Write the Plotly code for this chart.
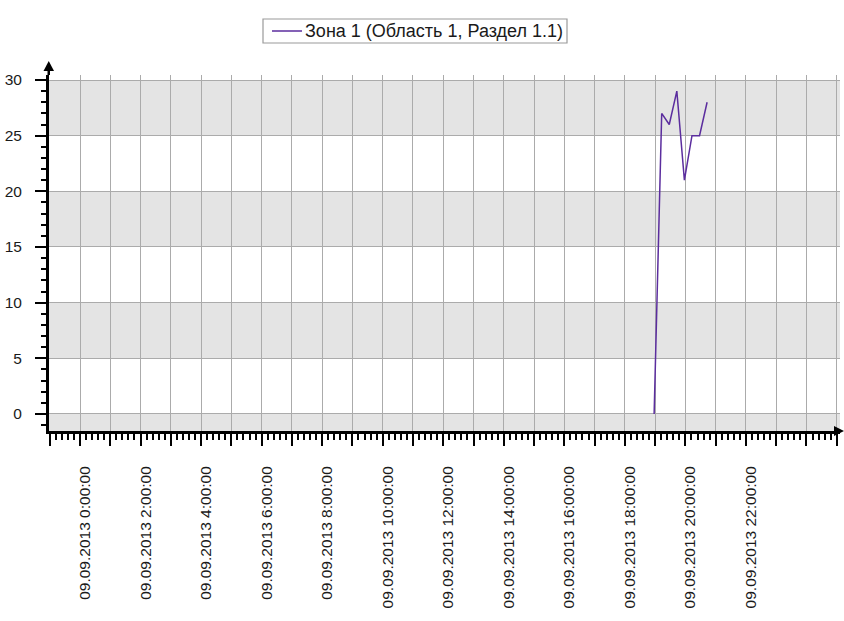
import pandas as pd
import plotly.graph_objects as go

# Readings for the zone on 09.09.2013
times = ["2013-09-09 18:58", "2013-09-09 19:13", "2013-09-09 19:28", "2013-09-09 19:43",
         "2013-09-09 19:58", "2013-09-09 20:13", "2013-09-09 20:28", "2013-09-09 20:43"]
values = [0, 27, 26, 29, 21, 25, 25, 28]
series_name = "Зона 1 (Область 1, Раздел 1.1)"
series_color = "#5b2d9e"

# Hourly grid/ticks, labels every two hours on the day
tick_hours = list(range(-1, 26))
day_start = pd.Timestamp("2013-09-09 00:00")
tick_vals = [day_start + pd.Timedelta(hours=h) for h in tick_hours]
tick_text = [(f"09.09.2013 {h}:00:00" if (0 <= h <= 22 and h % 2 == 0) else "") for h in tick_hours]

y_bands = [(25, 30), (15, 20), (5, 10), (-1.53, 0)]

W, H = 844, 621
ML, MR, MT, MB = 49, 4, 75, 190
PW, PH = W - ML - MR, H - MT - MB

x_range = [day_start - pd.Timedelta(hours=1.024), day_start + pd.Timedelta(hours=25.107)]
y_range = [-1.53, 30.45]

family = "Liberation Sans, Arial, sans-serif"
tick_font = dict(family=family, size=15.5, color="#1a1a1a")
legend_font = dict(family=family, size=18, color="#1a1a1a")

fig = go.Figure()
fig.add_trace(go.Scatter(
    x=pd.to_datetime(times), y=values, mode="lines", name=series_name,
    line=dict(color=series_color, width=1.5), showlegend=False,
))

shapes = []
for lo, hi in y_bands:
    shapes.append(dict(type="rect", xref="paper", yref="y", x0=0, x1=1, y0=lo, y1=hi,
                       fillcolor="#e4e4e4", line=dict(width=0), layer="below"))

# Arrow heads on the ends of both axes (pixel-sized, anchored to plot corners)
pix = dict(xref="paper", yref="paper", xsizemode="pixel", ysizemode="pixel")
shapes.append(dict(type="path", xanchor=0, yanchor=1, path="M -1.5,0 L -1.5,6 L 1,6 L 1,0 Z",
                   fillcolor="black", line=dict(width=0), layer="above", **pix))
shapes.append(dict(type="path", xanchor=0, yanchor=1, path="M -5.5,4 L 5,4 L -0.25,14 Z",
                   fillcolor="black", line=dict(width=0), layer="above", **pix))
shapes.append(dict(type="path", xanchor=1, yanchor=0, path="M -6,-5 L -6,5 L 4,0 Z",
                   fillcolor="black", line=dict(width=0), layer="above", **pix))

# Legend box with a line sample above the plot
shapes.append(dict(type="rect", xanchor=0, yanchor=1, x0=214, x1=518, y0=32, y1=56,
                   fillcolor="white", line=dict(color="#9a9a9a", width=1.2), **pix))
shapes.append(dict(type="line", xanchor=0, yanchor=1, x0=223, x1=253, y0=44, y1=44,
                   line=dict(color=series_color, width=1.5), **pix))

fig.update_layout(
    width=W, height=H,
    margin=dict(l=ML, r=MR, t=MT, b=MB, pad=0),
    paper_bgcolor="white", plot_bgcolor="white",
    font=tick_font,
    showlegend=False,
    shapes=shapes,
    annotations=[dict(
        text=series_name, xref="paper", yref="paper",
        x=(253 + 1) / PW, xanchor="left", y=1 + 44 / PH, yanchor="middle",
        showarrow=False, font=legend_font,
    )],
)

fig.update_xaxes(
    type="date", range=x_range,
    tickmode="array", tickvals=tick_vals, ticktext=tick_text, tickangle=-90,
    ticks="outside", ticklen=12, tickwidth=1.5, tickcolor="black",
    showgrid=True, gridcolor="#ababab", gridwidth=1,
    showline=True, linecolor="black", linewidth=3,
    zeroline=False, ticklabelstandoff=14, ticklabelshift=5,
    tickfont=tick_font,
    minor=dict(tickmode="linear", tick0="2013-09-09 00:00", dtick=720000,
               ticks="outside", ticklen=6, tickwidth=1.5, tickcolor="black", showgrid=False),
)
fig.update_yaxes(
    range=y_range, tickmode="linear", tick0=0, dtick=5,
    ticks="outside", ticklen=11, tickwidth=1.5, tickcolor="black",
    showgrid=True, gridcolor="#ababab", gridwidth=1,
    showline=True, linecolor="black", linewidth=3,
    zeroline=False, ticklabelstandoff=10,
    tickfont=tick_font,
    minor=dict(tickmode="linear", tick0=0, dtick=1,
               ticks="outside", ticklen=5, tickwidth=1.5, tickcolor="black", showgrid=False),
)

fig.write_html("out.html")
